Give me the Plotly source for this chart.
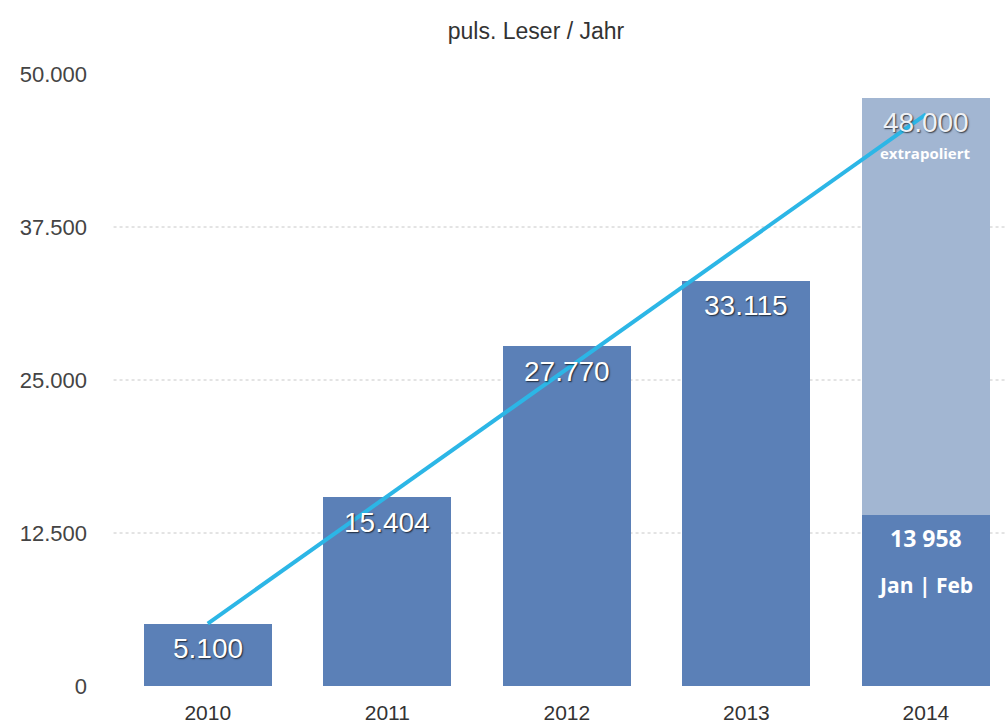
import plotly.graph_objects as go

# ---- data ----
years = ["2010", "2011", "2012", "2013", "2014"]
readers = [5100, 15404, 27770, 33115, 13958]          # 2014 = Jan | Feb only
bar_labels = ["5.100", "15.404", "27.770", "33.115", "13 958"]
extrapolated_2014 = 48000
extrapolated_label = "48.000"
extrapolated_note = "extrapoliert"
partial_note = "Jan | Feb"
trend = [5100, 15500, 25900, 36300, 46700]
y_ticks = [0, 12500, 25000, 37500, 50000]
y_ticktext = ["0", "12.500", "25.000", "37.500", "50.000"]
grid_levels = [12500, 25000, 37500]
title_text = "puls. Leser / Jahr"

DARK = "#5b80b7"
LIGHT = "#a2b6d2"
LINE = "#2cb6e6"
SHADOW = "1px 1px 1.5px rgba(0,0,0,0.7)"

extra = [0] * (len(years) - 1) + [extrapolated_2014 - readers[-1]]

fig = go.Figure()
fig.add_trace(go.Bar(x=years, y=readers, marker=dict(color=DARK, line=dict(width=0)),
                     width=0.713, hoverinfo="skip"))
fig.add_trace(go.Bar(x=years, y=extra, marker=dict(color=LIGHT, line=dict(width=0)),
                     width=0.713, hoverinfo="skip"))
fig.add_trace(go.Scatter(x=years, y=trend, mode="lines",
                         line=dict(color=LINE, width=4), hoverinfo="skip"))

for lvl in grid_levels:
    fig.add_shape(type="line", xref="paper", yref="y", x0=-0.005, x1=1, y0=lvl, y1=lvl,
                  line=dict(color="#c8c8c8", width=1, dash="dot"), layer="below")

annotations = []
px_per_unit = 612 / 50000
last = len(years) - 1
for i, (v, lab) in enumerate(zip(readers[:-1], bar_labels[:-1])):
    if v * px_per_unit < 55:
        yv, ys = v / 2, 0
    else:
        yv, ys = v, -25
    annotations.append(dict(x=i, y=yv, yshift=ys, text=lab, showarrow=False,
                            xref="x", yref="y", yanchor="middle",
                            font=dict(family="Liberation Sans", size=28, color="white",
                                      shadow=SHADOW)))
# 2014 labels
annotations.append(dict(x=last, y=extrapolated_2014, yshift=-24, text=extrapolated_label,
                        showarrow=False, yanchor="middle", xref="x", yref="y",
                        font=dict(family="Liberation Sans", size=28, color="#eef1f6",
                                  shadow=SHADOW)))
annotations.append(dict(x=last, y=extrapolated_2014, yshift=-55, text=extrapolated_note,
                        showarrow=False, yanchor="middle", xref="x", yref="y",
                        font=dict(family="Open Sans", size=15, color="white", weight=700)))
annotations.append(dict(x=last, y=readers[-1], yshift=-23, text=bar_labels[-1],
                        showarrow=False, yanchor="middle", xref="x", yref="y",
                        font=dict(family="Open Sans", size=23, color="white", weight=700)))
annotations.append(dict(x=last, y=readers[-1], yshift=-70, text=partial_note,
                        showarrow=False, yanchor="middle", xref="x", yref="y",
                        font=dict(family="Open Sans", size=21, color="white", weight=700)))

fig.update_layout(
    width=1006, height=725,
    margin=dict(l=118, r=0, t=74, b=39),
    paper_bgcolor="white", plot_bgcolor="white",
    barmode="stack", bargap=0.287, showlegend=False,
    title=dict(text=title_text, x=536 / 1006, xanchor="center", xref="container",
               y=1 - 31 / 725, yanchor="middle", yref="container",
               font=dict(family="Liberation Sans", size=23, color="#333333")),
    annotations=annotations,
    xaxis=dict(type="category", range=[-0.5, 4.446], showgrid=False, zeroline=False,
               showline=False, ticks="", ticklabelstandoff=12,
               tickfont=dict(family="Liberation Sans", size=21, color="#333333")),
    yaxis=dict(range=[0, 50000], tickvals=y_ticks, ticktext=y_ticktext, showgrid=False,
               zeroline=False, showline=False, ticks="", ticklabelstandoff=30,
               tickfont=dict(family="Liberation Sans", size=22, color="#444444")),
)

fig.write_html("out.html")
